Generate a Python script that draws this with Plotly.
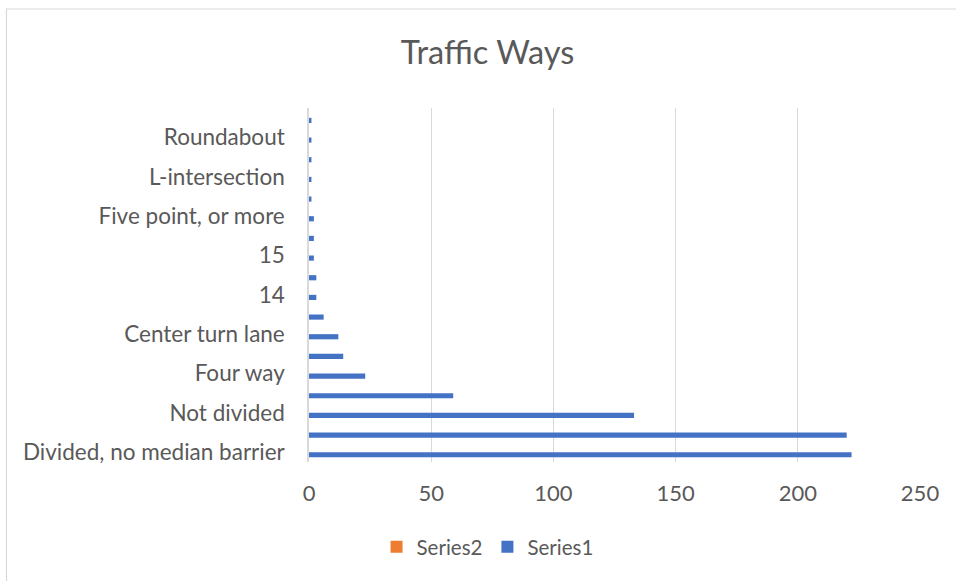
import plotly.graph_objects as go

# Categories bottom-to-top; Excel only displayed every other label
categories = [
    "Divided, no median barrier", "", "Not divided", "", "Four way", "",
    "Center turn lane", "", "14", "", "15", "", "Five point, or more", "",
    "L-intersection", "", "Roundabout", "",
]
series1 = [222, 220, 133, 59, 23, 14, 12, 6, 3, 3, 2, 2, 2, 1, 1, 1, 1, 1]
series2 = [0] * len(categories)
x_ticks = [0, 50, 100, 150, 200, 250]

pos = list(range(len(categories)))
shown = [i for i, c in enumerate(categories) if c]

FONT = "Lato"
TXT = "#595959"

fig = go.Figure()
fig.add_trace(go.Bar(name="Series1", y=pos, x=series1, orientation="h",
                     marker=dict(color="#4472C4", line=dict(width=0))))
fig.add_trace(go.Bar(name="Series2", y=pos, x=series2, orientation="h",
                     marker=dict(color="#ED7D31", line=dict(width=0))))

W, H = 956, 581
L, R, T, B = 309, 36, 108, 119
pw, ph = W - L - R, H - T - B

def px_x(x):
    return (x - L) / pw

def px_y(y):
    return (H - B - y) / ph

fig.update_layout(
    width=W, height=H,
    margin=dict(l=L, r=R, t=T, b=B, pad=0),
    paper_bgcolor="white", plot_bgcolor="white",
    barmode="group", bargap=0.476, bargroupgap=0,
    font=dict(family=FONT, color=TXT, size=22),
    title=dict(text="Traffic Ways", x=0.51, xref="container", xanchor="center",
               y=1 - 53 / H, yref="container", yanchor="middle",
               font=dict(family=FONT, size=32.5, color=TXT)),
    legend=dict(orientation="h", traceorder="reversed",
                x=0.51, xref="container", xanchor="center",
                y=1 - 547 / H, yref="container", yanchor="middle",
                font=dict(family=FONT, size=20.5, color=TXT),
                itemwidth=30),
    xaxis=dict(range=[0, 250], tickvals=x_ticks, showgrid=True,
               gridcolor="#D9D9D9", gridwidth=1.3, zeroline=False,
               showline=False, ticks="outside", ticklen=12,
               tickcolor="rgba(0,0,0,0)",
               tickfont=dict(family=FONT, size=22, color=TXT)),
    yaxis=dict(range=[-0.5, len(categories) - 0.5],
               tickvals=shown, ticktext=[categories[i] for i in shown],
               showgrid=False, zeroline=False, showline=True,
               linecolor="#D9D9D9", linewidth=1.5,
               ticks="outside", ticklen=18, tickcolor="rgba(0,0,0,0)",
               tickfont=dict(family=FONT, size=22.5, color=TXT)),
    shapes=[dict(type="rect", xref="paper", yref="paper",
                 x0=px_x(6.5), x1=px_x(1100), y0=px_y(9), y1=px_y(700),
                 line=dict(color="#D9D9D9", width=1.2), fillcolor="rgba(0,0,0,0)",
                 layer="below")],
    showlegend=True,
)

fig.write_html("out.html", config={"displayModeBar": False},
               post_script="document.body.style.margin='0';")
